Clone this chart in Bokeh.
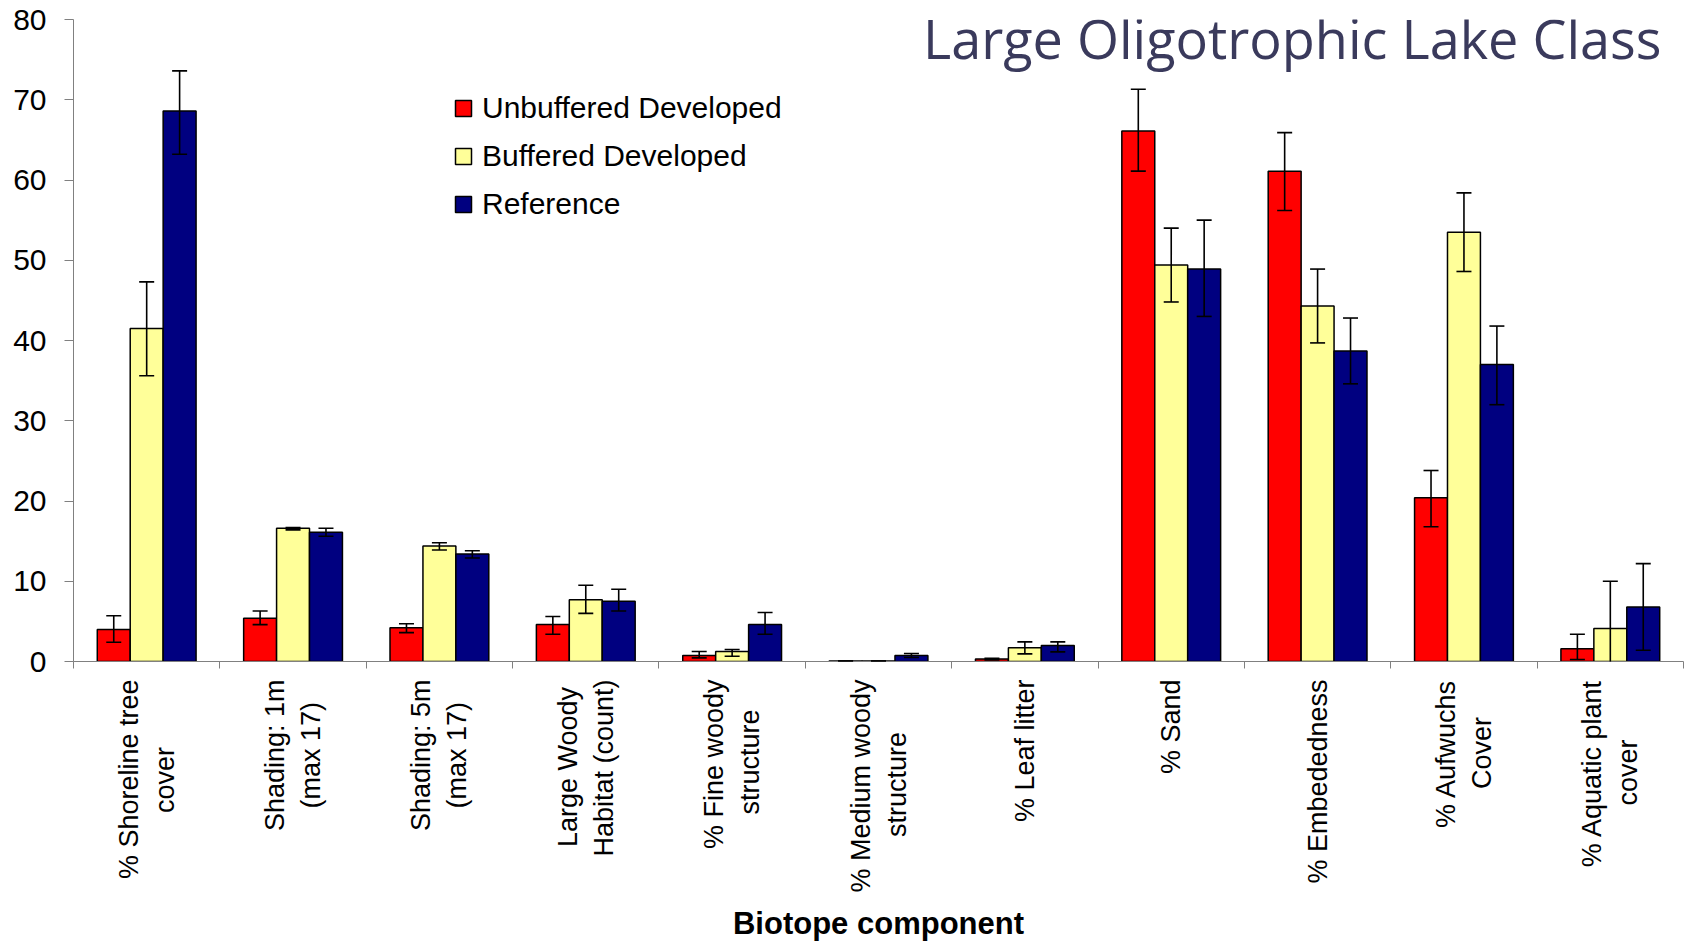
import numpy as np
from bokeh.plotting import figure
from bokeh.models import (ColumnDataSource, Range1d, FixedTicker, Whisker, TeeHead,
                          Legend, LegendItem, Label)
from bokeh.embed import file_html
from bokeh.resources import INLINE

categories = ["% Shoreline tree\ncover", "Shading: 1m\n(max 17)", "Shading: 5m\n(max 17)",
              "Large Woody\nHabitat (count)", "% Fine woody\nstructure", "% Medium woody\nstructure",
              "% Leaf litter", "% Sand", "% Embededness", "% Aufwuchs\nCover",
              "% Aquatic plant\ncover"]

unbuffered = [4.0, 5.4, 4.2, 4.6, 0.75, 0.05, 0.3, 66.1, 61.1, 20.4, 1.6]
unbuffered_lo = [2.4, 4.6, 3.6, 3.4, 0.45, 0.05, 0.2, 61.1, 56.2, 16.8, 0.25]
unbuffered_hi = [5.7, 6.3, 4.7, 5.6, 1.25, 0.05, 0.4, 71.3, 65.9, 23.8, 3.4]

buffered = [41.5, 16.6, 14.4, 7.7, 1.25, 0.05, 1.7, 49.4, 44.3, 53.5, 4.1]
buffered_lo = [35.6, 16.4, 13.9, 6.0, 0.65, 0.05, 0.95, 44.8, 39.7, 48.6, -1.8]
buffered_hi = [47.3, 16.7, 14.8, 9.5, 1.5, 0.05, 2.45, 54.0, 48.9, 58.4, 10.0]

reference = [68.6, 16.1, 13.4, 7.5, 4.6, 0.75, 2.0, 48.9, 38.7, 37.0, 6.8]
reference_lo = [63.2, 15.6, 12.9, 6.3, 3.4, 0.5, 1.2, 43.0, 34.6, 32.0, 1.4]
reference_hi = [73.6, 16.6, 13.8, 9.0, 6.1, 1.0, 2.45, 55.0, 42.8, 41.8, 12.2]

series_names = ["Unbuffered Developed", "Buffered Developed", "Reference"]
series_colors = ["#FF0000", "#FFFF99", "#000080"]
y_ticks = [0, 10, 20, 30, 40, 50, 60, 70, 80]
title_text = "Large Oligotrophic Lake Class"
x_title = "Biotope component"

# Arial / Liberation Sans advance widths (per 1000 em), used to centre the
# two lines of each rotated category label (Bokeh aligns them at one end).
ARIAL_W = {" ": 278, "%": 889, "(": 333, ")": 333, ":": 278, "1": 556, "5": 556, "7": 556,
           "A": 667, "C": 722, "E": 667, "F": 611, "H": 722, "L": 556, "M": 833, "S": 667,
           "W": 944, "a": 556, "b": 556, "c": 500, "d": 556, "e": 556, "f": 278, "g": 556,
           "h": 556, "i": 222, "l": 222, "m": 833, "n": 556, "o": 556, "p": 556, "q": 556,
           "r": 333, "s": 500, "t": 278, "u": 556, "v": 500, "w": 722, "x": 500, "y": 500}


def centred(label):
    lines = label.split("\n")
    if len(lines) == 1:
        return label
    widths = [sum(ARIAL_W.get(ch, 556) for ch in ln) for ln in lines]
    wmax = max(widths)
    out = []
    for ln, w in zip(lines, widths):
        pad = int(round((wmax - w) / 2 / ARIAL_W[" "]))
        out.append(ln + "\u00a0" * pad)
    return "\n".join(out)


n = len(categories)
centers = np.arange(n) + 0.5
bar_w = 0.225
offsets = [-bar_w, 0.0, bar_w]

p = figure(frame_width=1610, frame_height=642, x_range=Range1d(0, n), y_range=Range1d(0, 80),
           output_backend="svg", toolbar_location=None,
           min_border_left=73, min_border_right=1, min_border_top=19, min_border_bottom=260)
p.outline_line_color = None
p.xgrid.visible = False
p.ygrid.visible = False

FONT = "Liberation Sans"

items = []
data = [(unbuffered, unbuffered_lo, unbuffered_hi),
        (buffered, buffered_lo, buffered_hi),
        (reference, reference_lo, reference_hi)]
for (vals, lo, hi), name, col, off in zip(data, series_names, series_colors, offsets):
    src = ColumnDataSource(dict(x=centers + off, top=vals, lower=lo, upper=hi))
    r = p.vbar(x="x", top="top", width=bar_w, source=src, fill_color=col,
               line_color="black", line_width=1.5)
    items.append(LegendItem(label=name, renderers=[r]))
    w = Whisker(base="x", lower="lower", upper="upper", source=src, level="annotation",
                line_color="black", line_width=1.6,
                upper_head=TeeHead(size=15, line_width=1.6, line_color="black"),
                lower_head=TeeHead(size=15, line_width=1.6, line_color="black"))
    p.add_layout(w)

# y axis
p.yaxis.ticker = FixedTicker(ticks=y_ticks)
p.yaxis.major_tick_out = 9
p.yaxis.major_tick_in = 0
p.yaxis.minor_tick_line_color = None
p.yaxis.axis_line_color = "#808080"
p.yaxis.major_tick_line_color = "#808080"
p.yaxis.major_label_text_font = FONT
p.yaxis.major_label_text_font_size = "30px"
p.yaxis.major_label_text_color = "black"
p.yaxis.major_label_standoff = 18

# x axis: labels at group centres, tick marks at group boundaries
p.xaxis.ticker = FixedTicker(ticks=list(centers), minor_ticks=list(np.arange(n + 1)))
p.xaxis.major_label_overrides = {float(c): centred(lab) for c, lab in zip(centers, categories)}
p.xaxis.major_tick_line_color = None
p.xaxis.major_tick_out = 0
p.xaxis.major_tick_in = 0
p.xaxis.minor_tick_out = 7
p.xaxis.minor_tick_in = 0
p.xaxis.minor_tick_line_color = "#808080"
p.xaxis.axis_line_color = "#808080"
p.xaxis.major_label_orientation = np.pi / 2
p.xaxis.major_label_text_font = FONT
p.xaxis.major_label_text_font_size = "27px"
p.xaxis.major_label_text_color = "black"
p.xaxis.major_label_standoff = 11
p.xaxis.axis_label = x_title
p.xaxis.axis_label_text_font = FONT
p.xaxis.axis_label_text_font_size = "31px"
p.xaxis.axis_label_text_font_style = "bold"
p.xaxis.axis_label_text_color = "black"
p.xaxis.axis_label_standoff = 10

legend = Legend(items=items, location=(380, 440), padding=0, border_line_color=None,
                background_fill_alpha=0, label_text_font=FONT, label_text_font_size="30px",
                label_text_color="black",
                glyph_width=20, glyph_height=20, label_standoff=9, spacing=14,
                label_height=20)
p.add_layout(legend)

title = Label(x=10.85, y=77.65, text=title_text, text_align="right", text_baseline="alphabetic",
              text_font="Open Sans", text_font_size="54px", text_color="#3a3a5c")
p.add_layout(title)

open("out.html", "w").write(file_html(p, INLINE))
